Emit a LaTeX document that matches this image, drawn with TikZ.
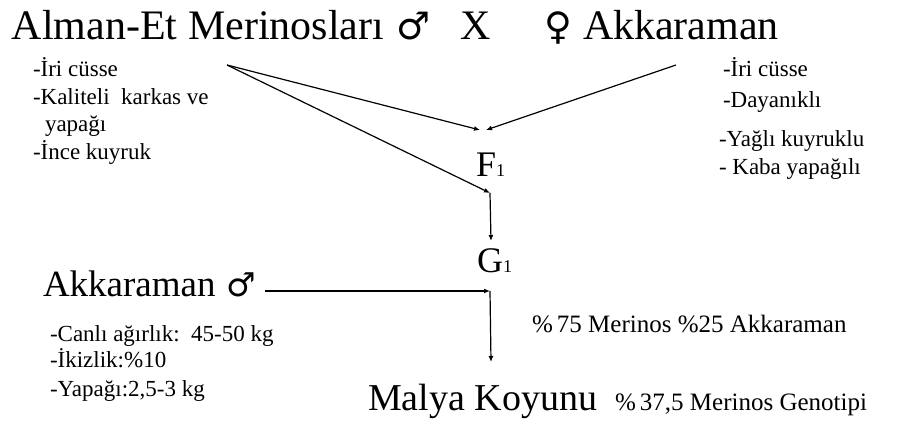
\documentclass[tikz,border=0pt]{standalone}
\usepackage{fontspec}
\setmainfont{Liberation Serif}
\newfontfamily\symfont{DejaVu Sans}
\usetikzlibrary{arrows.meta}
\tikzset{
  txt/.style={anchor=base west, inner sep=0pt, outer sep=0pt},
  big/.style={txt, font=\fontsize{42}{46}\selectfont},
  mid/.style={txt, font=\fontsize{37}{40}\selectfont},
  small/.style={txt, font=\fontsize{23}{25}\selectfont},
  note/.style={txt, font=\fontsize{25}{28}\selectfont},
  conn/.style={line width=1.2pt, -{Latex[length=6pt,width=5pt]}},
  plain/.style={line width=1.2pt}
}
\begin{document}
\begin{tikzpicture}[x=1pt,y=-1pt]
\useasboundingbox (0,0) rectangle (905,427);
% title row
\node[big] (alman) at (12,40) {Alman-Et Merinosları};
\node[big, font=\fontsize{38}{40}\selectfont\symfont] (male1) at (396,40) {♂};
\node[big] (x) at (460,40) {X};
\node[big, font=\fontsize{38}{40}\selectfont\symfont] (fem) at (544,40) {♀};
\node[big] (akk1) at (583,40) {Akkaraman};
% left list
\node[small] (l1) at (33,77) {-İri cüsse};
\node[small] (l2) at (33,105) {-Kaliteli\ \ karkas ve};
\node[small] (l3) at (45,132) {yapağı};
\node[small] (l4) at (33,160) {-İnce kuyruk};
% right list
\node[small] (r1) at (723,77) {-İri cüsse};
\node[small] (r2) at (723,108) {-Dayanıklı};
\node[small] (r3) at (719,147) {-Yağlı kuyruklu};
\node[small] (r4) at (719,175) {- Kaba yapağılı};
% F1, G1
\node[txt, font=\fontsize{36}{40}\selectfont] (f1) at (476,177) {F\fontsize{18}{20}\selectfont 1};
\node[txt, font=\fontsize{36}{40}\selectfont] (g1) at (477,273) {G\fontsize{18}{20}\selectfont 1};
% Akkaraman male
\node[mid] (akk2) at (43,297) {Akkaraman};
\node[mid, font=\fontsize{33}{36}\selectfont\symfont] (male2) at (226,297) {♂};
\node[small] (b1) at (50,342) {-Canlı ağırlık:\ \ 45-50 kg};
\node[small] (b2) at (50,368) {-İkizlik:\%10};
\node[small] (b3) at (50,397) {-Yapağı:2,5-3 kg};
% notes
\node[note] (n1) at (532,333) {\%\,75 Merinos \%25 Akkaraman};
\node[txt, font=\fontsize{38}{40}\selectfont] (malya) at (368,410) {Malya Koyunu};
\node[note] (n2) at (615,410) {\%\,37,5 Merinos Genotipi};
% connector points
\coordinate (mL) at (227,65);
\coordinate (mR) at (676,65);
\coordinate (fL) at (480,130);
\coordinate (fR) at (486,130);
\coordinate (j1) at (490,193);
\coordinate (gTop) at (491,241);
\coordinate (hs) at (265,291);
\coordinate (j2) at (490,291);
\coordinate (mTop) at (491,362);
\draw[conn] (mL) -- (fL);
\draw[conn] (mR) -- (fR);
\draw[conn] (mL) -- (j1);
\draw[conn] (j1) -- (gTop);
\draw[conn] (hs) -- (j2);
\draw[conn] (j2) -- (mTop);
\end{tikzpicture}
\end{document}
